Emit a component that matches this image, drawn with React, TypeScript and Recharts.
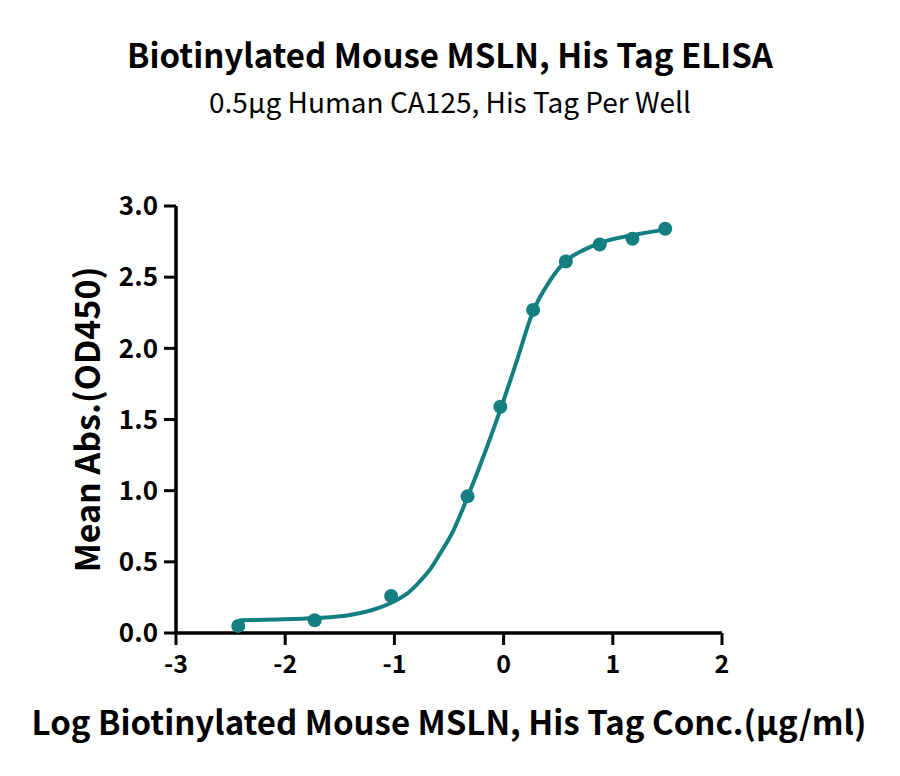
import { ComposedChart, Line, Scatter, XAxis, YAxis } from "recharts";

// measured points (log conc, OD450)
const logConc = [-2.43, -1.73, -1.03, -0.33, -0.03, 0.27, 0.57, 0.88, 1.18, 1.48];
const meanAbs = [0.05, 0.09, 0.26, 0.96, 1.59, 2.27, 2.61, 2.73, 2.77, 2.84];

// fitted curve
const fitX = [-2.42, -2.07, -1.72, -1.42, -1.21, -1.01, -0.87, -0.77, -0.67, -0.58, -0.46, -0.33, -0.17, -0.02, 0.12, 0.27, 0.42, 0.58, 0.73, 0.88, 1.18, 1.49];
const fitY = [0.09, 0.095, 0.105, 0.125, 0.16, 0.22, 0.285, 0.36, 0.45, 0.56, 0.72, 0.955, 1.27, 1.59, 1.91, 2.26, 2.47, 2.62, 2.69, 2.74, 2.795, 2.835];

const xTicks = [-3, -2, -1, 0, 1, 2];
const yTicks = [0, 0.5, 1, 1.5, 2, 2.5, 3];

const TEAL = "#137f80";
const FONT = '"Noto Sans CJK SC", "Noto Sans", sans-serif';

const points = logConc.map((x, i) => ({ x, y: meanAbs[i] }));
const curve = fitX.map((x, i) => ({ x, y: fitY[i] }));

const Dot = (props: any) => <circle cx={props.cx} cy={props.cy} r={7} fill={TEAL} />;

const App = () => {
  return (
    <div style={{ position: "absolute", left: 0, top: 0, width: 900, height: 776, background: "#fff", fontFamily: FONT }}>
      <div style={{ position: "absolute", top: 38, width: 900, textAlign: "center", fontSize: 33, fontWeight: 700, lineHeight: "33px" }}>
        Biotinylated Mouse MSLN, His Tag ELISA
      </div>
      <div style={{ position: "absolute", top: 87, width: 900, textAlign: "center", fontSize: 28, lineHeight: "28px" }}>
        0.5μg Human CA125, His Tag Per Well
      </div>
      <ComposedChart
        width={900}
        height={776}
        margin={{ top: 206, right: 178, bottom: 83, left: 106 }}
      >
        <XAxis
          type="number"
          dataKey="x"
          domain={[-3, 2]}
          ticks={xTicks}
          allowDataOverflow
          height={60}
          axisLine={{ stroke: "#000", strokeWidth: 3.5 }}
          tickLine={{ stroke: "#000", strokeWidth: 3 }}
          tickSize={12}
          tickMargin={10}
          tick={{ fontSize: 25, fontWeight: 700, fill: "#000", fontFamily: FONT }}
          label={{
            value: "Log Biotinylated Mouse MSLN, His Tag Conc.(μg/ml)",
            position: "insideBottom",
            offset: -42,
            style: { fontSize: 33, fontWeight: 700, fill: "#000", fontFamily: FONT },
          }}
        />
        <YAxis
          type="number"
          dataKey="y"
          domain={[0, 3]}
          ticks={yTicks}
          width={70}
          axisLine={{ stroke: "#000", strokeWidth: 3.5 }}
          tickLine={{ stroke: "#000", strokeWidth: 3 }}
          tickSize={12}
          tickMargin={6}
          tickFormatter={(v: number) => v.toFixed(1)}
          tick={{ fontSize: 26, fontWeight: 700, fill: "#000", fontFamily: FONT }}
          label={{
            value: "Mean Abs.(OD450)",
            angle: -90,
            position: "insideLeft",
            offset: -18,
            style: { textAnchor: "middle", fontSize: 34, fontWeight: 700, fill: "#000", fontFamily: FONT },
          }}
        />
        <Line
          data={curve}
          dataKey="y"
          type="monotone"
          stroke={TEAL}
          strokeWidth={4}
          dot={false}
          activeDot={false}
          isAnimationActive={false}
        />
        <Scatter data={points} dataKey="y" fill={TEAL} shape={Dot} isAnimationActive={false} />
      </ComposedChart>
    </div>
  );
};

export default App;
